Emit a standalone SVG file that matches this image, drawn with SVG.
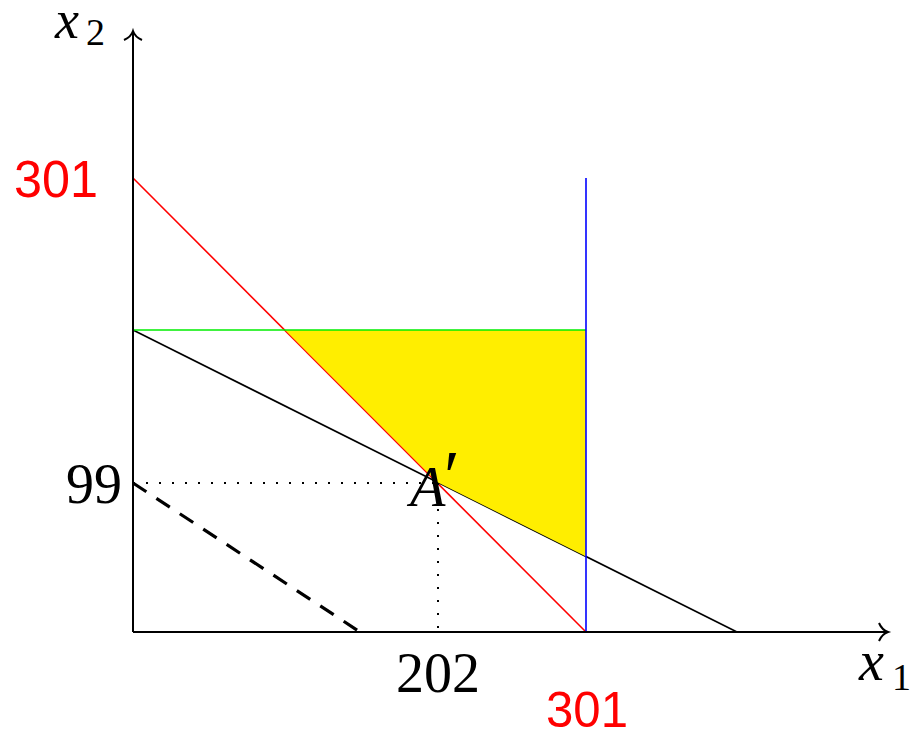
<svg xmlns="http://www.w3.org/2000/svg" width="915" height="735" viewBox="0 0 915 735">
<style>
.math{font-family:"Liberation Serif","DejaVu Serif",serif;fill:#000}
.it{font-style:italic}
.red{font-family:"Liberation Sans","DejaVu Sans",sans-serif;fill:#ff0000}
.ax{stroke:#000;stroke-width:2;fill:none}
.ln{fill:none;stroke-width:1.6}
</style>
<rect width="915" height="735" fill="#fff"/>
<g id="connectors">
<line class="ln" x1="133" y1="178" x2="586" y2="632" stroke="#ff0000"/>
<line class="ln" x1="133" y1="330" x2="737" y2="632" stroke="#000"/>
<polygon id="feasible" points="285,330 586,330 586,556.5 437,482" fill="#ffee00"/>
<line class="ln" x1="133" y1="330" x2="586" y2="330" stroke="#00ee00"/>
<line class="ln" x1="586" y1="178" x2="586" y2="632" stroke="#0000ff"/>
<line x1="133" y1="483" x2="360" y2="632" stroke="#000" stroke-width="3.2" stroke-dasharray="16 12"/>
<line x1="133" y1="483" x2="437" y2="483" stroke="#000" stroke-width="2" stroke-dasharray="2 11" stroke-linecap="butt"/>
<line x1="438" y1="483" x2="438" y2="632" stroke="#000" stroke-width="2" stroke-dasharray="2 11"/>
<line class="ax" x1="133" y1="632" x2="887" y2="632"/>
<line class="ax" x1="133" y1="632" x2="133" y2="31"/>
<path class="ax" d="M879,623 Q882,630 888,632 Q882,634 879,641"/>
<path class="ax" d="M124,40 Q131,37 133,31 Q135,37 142,40"/>
</g>
<g id="x2-label"><text class="math it" x="55" y="38" font-size="54">x</text><text class="math" x="86" y="45" font-size="38">2</text></g>
<g id="x1-label"><text class="math it" x="859" y="680" font-size="56">x</text><text class="math" x="892" y="690" font-size="38">1</text></g>
<g id="label-301-y"><text class="red" x="14" y="197" font-size="52" textLength="84" lengthAdjust="spacingAndGlyphs">301</text></g>
<g id="label-301-x"><text class="red" x="546" y="727" font-size="50" textLength="82" lengthAdjust="spacingAndGlyphs">301</text></g>
<g id="label-99"><text class="math" x="66" y="503" font-size="56">99</text></g>
<g id="label-202"><text class="math" x="396" y="692" font-size="56">202</text></g>
<g id="point-A"><text class="math it" x="410" y="506" font-size="58">A</text><text class="math" x="444" y="500" font-size="72">′</text></g>
</svg>
